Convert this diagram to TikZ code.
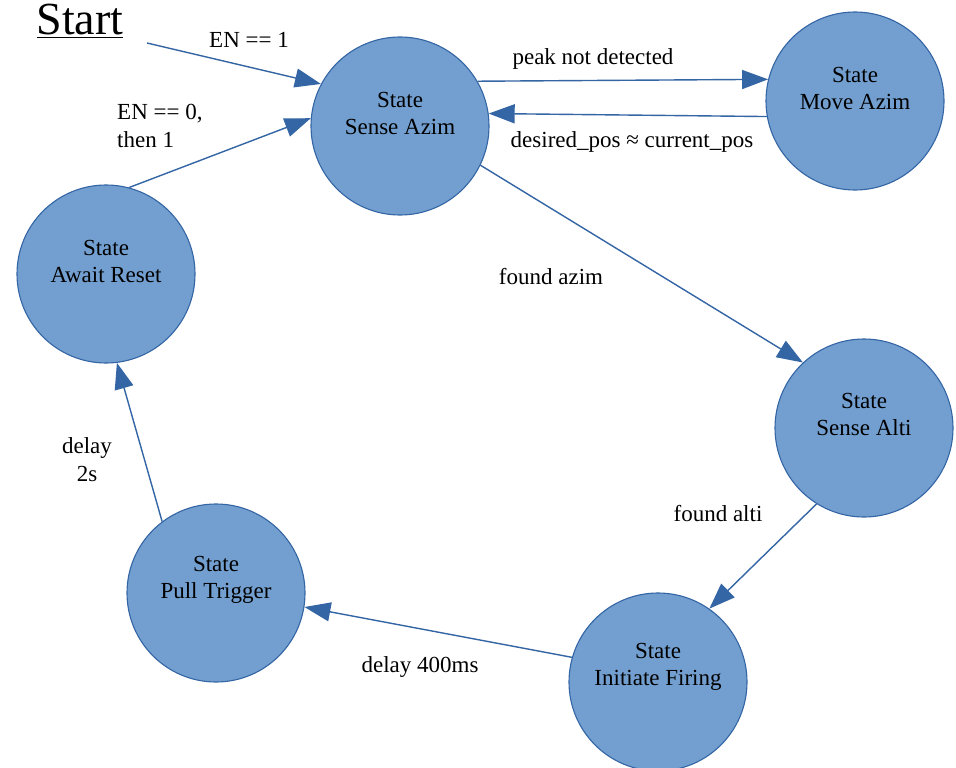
\documentclass[tikz,border=0pt]{standalone}
\usepackage{fontspec}
\setmainfont{Liberation Serif}
\usetikzlibrary{arrows.meta}
\definecolor{fillblue}{HTML}{729FCF}
\definecolor{lineblue}{HTML}{3465A4}
\begin{document}
\begin{tikzpicture}[x=1pt,y=-1pt,
  state/.style={circle, draw=lineblue, fill=fillblue, line width=1.1pt, minimum size=178pt, inner sep=0pt},
  statetext/.style={align=center, font=\fontsize{23}{27}\selectfont, inner sep=0pt},
  lbl/.style={font=\fontsize{23}{28}\selectfont, inner sep=0pt},
  edge/.style={draw=lineblue, line width=1.4pt, -{Triangle[length=26pt,width=19pt]}},
]
\useasboundingbox (0,0) rectangle (956,768);
\fill[white] (0,0) rectangle (956,768);

% states
\node[state] (sa) at (400,126) {};
\node[state] (ma) at (855,101) {};
\node[state] (ar) at (106,274) {};
\node[state] (alti) at (864,428) {};
\node[state] (fire) at (658,682) {};
\node[state] (pt) at (216,593) {};

\node[statetext] (sa-t) at ([yshift=13pt]sa.center) {State\\Sense Azim};
\node[statetext] (ma-t) at ([yshift=13pt]ma.center) {State\\Move Azim};
\node[statetext] (ar-t) at ([yshift=13pt]ar.center) {State\\Await Reset};
\node[statetext] (alti-t) at ([yshift=14pt]alti.center) {State\\Sense Alti};
\node[statetext] (fire-t) at ([yshift=15pt]fire.center) {State\\Initiate Firing};
\node[statetext] (pt-t) at ([yshift=13pt]pt.center) {State\\Pull Trigger};

% start
\node[font=\fontsize{46}{50}\selectfont, inner sep=0pt, anchor=base] (startlbl) at (80,35) {\underline{Start}};
\coordinate (start) at (147,43);

% connectors
\draw[edge] (start) -- (sa.152);
\draw[edge] (ar.75) -- (sa.175);
\draw[edge] (sa.30) -- (ma.166);
\draw[edge] (ma.190) -- (sa.8);
\draw[edge] (sa.-26) -- (alti.133);
\draw[edge] (alti.-122) -- (fire.55);
\draw[edge] (fire.164) -- (pt.-9);
\draw[edge] (pt.127) -- (ar.-83);

% labels
\node[lbl, anchor=base] (l1) at (249,48) {EN == 1};
\node[lbl, anchor=west, align=left] (l2) at (117,126) {EN == 0,\\then 1};
\node[lbl, anchor=base] (l3) at (593,65) {peak not detected};
\node[lbl, anchor=base] (l4) at (632,147) {desired\_pos ≈ current\_pos};
\node[lbl, anchor=base] (l5) at (551,284) {found azim};
\node[lbl, anchor=base] (l6) at (718,521) {found alti};
\node[lbl, anchor=base] (l7) at (420,672) {delay 400ms};
\node[lbl, align=center] (l8) at (87,460) {delay\\2s};
\end{tikzpicture}
\end{document}
